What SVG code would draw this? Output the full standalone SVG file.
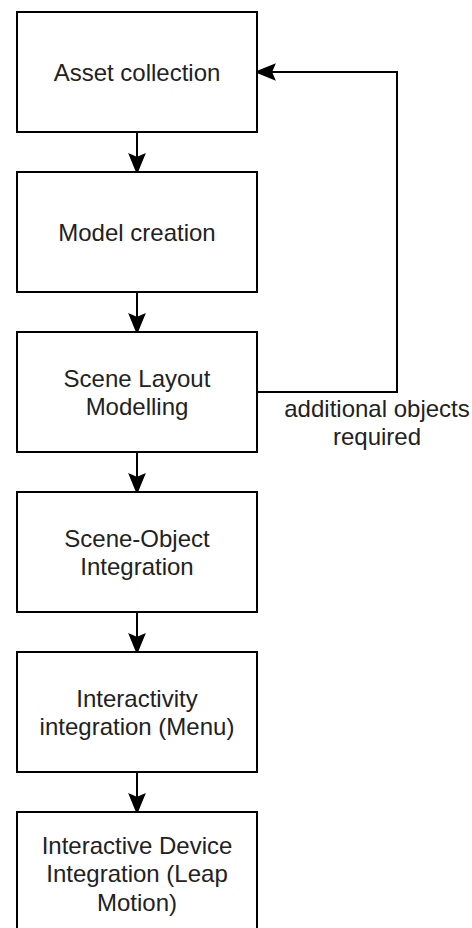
<svg xmlns="http://www.w3.org/2000/svg" width="472" height="928" viewBox="0 0 472 928">
<style>
.box{fill:#fff;stroke:#000;stroke-width:2}
.lbl{font-family:"Liberation Sans",Arial,sans-serif;font-size:24px;fill:#222;text-anchor:middle}
.edge{fill:none;stroke:#000;stroke-width:2}
.head{fill:#000;stroke:#000;stroke-width:2;stroke-linejoin:miter}
</style>
<rect width="472" height="928" fill="#fff"/>
<g id="connectors">
<path class="edge" d="M137 132V158"/>
<path class="head" d="M137 172L130 155L137 158L144 155Z"/>
<path class="edge" d="M137 292V318"/>
<path class="head" d="M137 332L130 315L137 318L144 315Z"/>
<path class="edge" d="M137 452V478"/>
<path class="head" d="M137 492L130 475L137 478L144 475Z"/>
<path class="edge" d="M137 612V638"/>
<path class="head" d="M137 652L130 635L137 638L144 635Z"/>
<path class="edge" d="M137 772V798"/>
<path class="head" d="M137 812L130 795L137 798L144 795Z"/>
<path class="edge" d="M257 392H397V72H271"/>
<path class="head" d="M257 72L274 65L271 72L274 79Z"/>
<text class="lbl" x="377" y="416.5">additional objects</text>
<text class="lbl" x="377" y="445.3">required</text>
</g>
<g id="asset-collection">
<rect class="box" x="17" y="12" width="240" height="120"/>
<text class="lbl" x="137" y="80.5">Asset collection</text>
</g>
<g id="model-creation">
<rect class="box" x="17" y="172" width="240" height="120"/>
<text class="lbl" x="137" y="240.5">Model creation</text>
</g>
<g id="scene-layout">
<rect class="box" x="17" y="332" width="240" height="120"/>
<text class="lbl" x="137" y="386.5">Scene Layout</text>
<text class="lbl" x="137" y="415.3">Modelling</text>
</g>
<g id="scene-object">
<rect class="box" x="17" y="492" width="240" height="120"/>
<text class="lbl" x="137" y="546.5">Scene-Object</text>
<text class="lbl" x="137" y="575.3">Integration</text>
</g>
<g id="interactivity">
<rect class="box" x="17" y="652" width="240" height="120"/>
<text class="lbl" x="137" y="706.5">Interactivity</text>
<text class="lbl" x="137" y="735.3">integration (Menu)</text>
</g>
<g id="device">
<rect class="box" x="17" y="812" width="240" height="120"/>
<text class="lbl" x="137" y="853.5">Interactive Device</text>
<text class="lbl" x="137" y="882.3">Integration (Leap</text>
<text class="lbl" x="137" y="911.1">Motion)</text>
</g>
</svg>
